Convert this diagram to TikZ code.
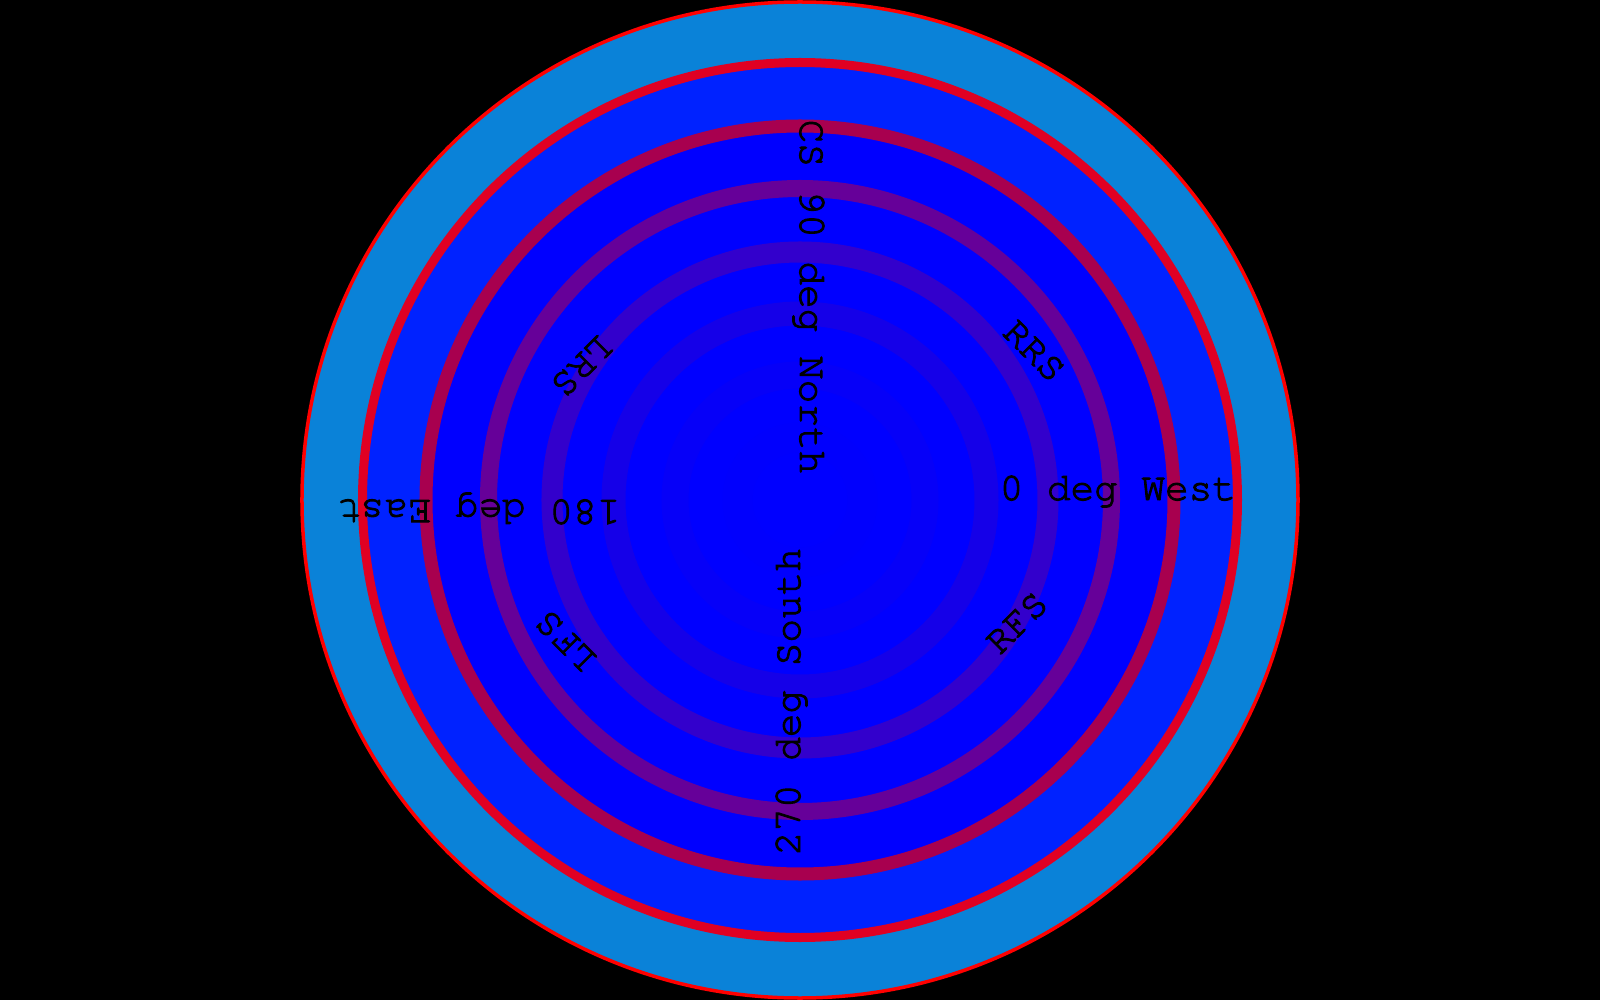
\documentclass[tikz,border=0pt]{standalone}
\usepackage{fontspec}
\newfontfamily\dialfont[FakeBold=2.5]{TeX Gyre Cursor}
\definecolor{skyband}{HTML}{0A82D8}
\definecolor{midband}{HTML}{0022FF}
\definecolor{coreband}{HTML}{0000FF}
\definecolor{ringA}{HTML}{FF0000}
\definecolor{ringB}{HTML}{E00023}
\definecolor{ringC}{HTML}{A8004F}
\definecolor{ringD}{HTML}{660099}
\definecolor{ringE}{HTML}{3300CC}
\definecolor{ringF}{HTML}{1500E8}
\definecolor{ringG}{HTML}{0600F8}
\definecolor{ringH}{HTML}{0100FD}
\begin{document}
\begin{tikzpicture}[x=0.01cm,y=0.01cm,
    dial/.style={font=\dialfont\fontsize{11.2}{13}\selectfont, inner sep=0pt, text=black}]
\fill[black] (-800,-500) rectangle (800,500);
\draw[ringA, line width=0.035cm, fill=skyband] (0,0) circle (498);
\draw[ringB, line width=0.09cm, fill=midband] (0,0) circle (437.5);
\draw[ringC, line width=0.13cm, fill=coreband] (0,0) circle (374);
\foreach \r/\w/\c in {311.5/0.17/ringD, 248/0.21/ringE, 186.5/0.24/ringF, 125/0.27/ringG, 62.5/0.30/ringH}
    \draw[\c, line width=\w cm] (0,0) circle (\r);
\node[dial, anchor=base west] (west) at (199,0) {0 deg West};
\node[dial, anchor=base west, rotate=180] (east) at (-179,0) {180 deg East};
\node[dial, anchor=base west, rotate=-90] (north) at (0,381) {CS 90 deg North};
\node[dial, anchor=base west, rotate=90] (south) at (0,-356) {270 deg South};
\node[dial, rotate=-45] (rrs) at (234,149) {RRS};
\node[dial, rotate=45] (rfs) at (217,-123) {RFS};
\node[dial, rotate=-135] (lrs) at (-218,134) {LRS};
\node[dial, rotate=135] (lfs) at (-234,-141) {LFS};
\end{tikzpicture}
\end{document}
